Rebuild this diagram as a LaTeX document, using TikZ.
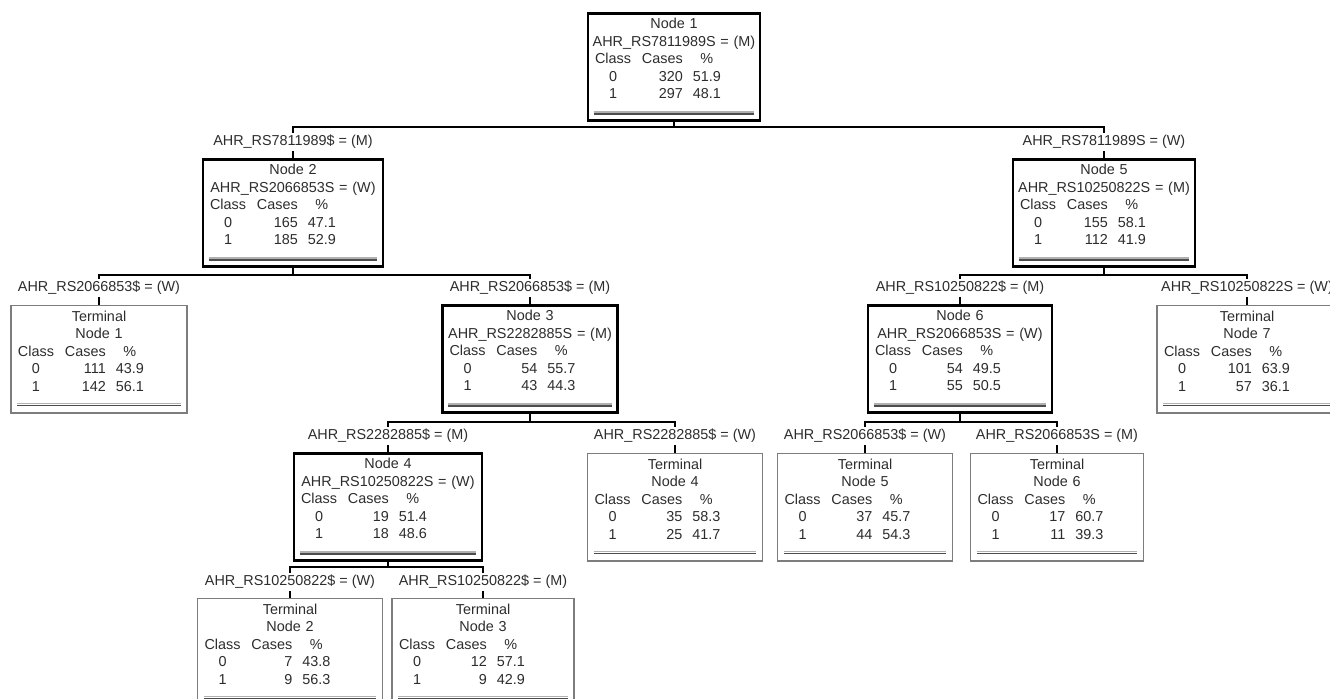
\documentclass[tikz,border=0pt]{standalone}
\usepackage{fontspec}
\setmainfont{Liberation Sans}
\definecolor{leafgray}{RGB}{125,125,125}
\definecolor{textgray}{RGB}{45,45,45}
% class table of a tree node
\newcommand{\cstats}[4]{\hbox to\hsize{\hspace{1.5pt}\begin{tabular}[t]{@{}c@{\hspace{5.5pt}}r@{\hspace{5pt}}c@{}}
  Class&Cases&\%\\0&#1&#2\\1&#3&#4\rule[-8.5pt]{0pt}{1pt}\end{tabular}\hfil}}

\begin{document}
\begin{tikzpicture}[x=0.5pt,y=-0.5pt,
    font=\fontsize{7.2}{8.75}\selectfont, text=textgray,
    cart/.style={anchor=north, align=center, inner xsep=2pt, inner ysep=2.5pt, fill=white},
    splitbox/.style={cart, draw=black, line width=1.3pt},
    leafbox/.style={cart, draw=leafgray, line width=0.6pt},
    boxw/.code={\pgfmathsetmacro\bwd{#1*0.5-4}\tikzset{text width=\bwd pt}},
    lbl/.style={inner sep=1pt},
    bar/.style={line width=1.3pt},
    tick/.style={line width=1pt}]
  \useasboundingbox (0,0) rectangle (1330,698);
  \clip (0,0) rectangle (1330,698);
  \fill[white] (0,0) rectangle (1330,698);
  % Split nodes
  \node[splitbox, boxw=172] (n1) at (674,12) {Node 1\\AHR\_RS7811989S = (M)\\\cstats{320}{51.9}{297}{48.1}};
  \node[splitbox, boxw=180] (n2) at (293,158) {Node 2\\AHR\_RS2066853S = (W)\\\cstats{165}{47.1}{185}{52.9}};
  \node[splitbox, boxw=182] (n5) at (1104,158) {Node 5\\AHR\_RS10250822S = (M)\\\cstats{155}{58.1}{112}{41.9}};
  \node[splitbox, boxw=175] (n3) at (530,304) {Node 3\\AHR\_RS2282885S = (M)\\\cstats{54}{55.7}{43}{44.3}};
  \node[splitbox, boxw=184] (n6) at (960,304) {Node 6\\AHR\_RS2066853S = (W)\\\cstats{54}{49.5}{55}{50.5}};
  \node[splitbox, boxw=188] (n4) at (388,452) {Node 4\\AHR\_RS10250822S = (W)\\\cstats{19}{51.4}{18}{48.6}};
  % Terminal nodes
  \node[leafbox, boxw=176] (t1) at (99,305) {Terminal\\Node 1\\\cstats{111}{43.9}{142}{56.1}};
  \node[leafbox, boxw=180] (t7) at (1247,305) {Terminal\\Node 7\\\cstats{101}{63.9}{57}{36.1}};
  \node[leafbox, boxw=175] (t4) at (675,453) {Terminal\\Node 4\\\cstats{35}{58.3}{25}{41.7}};
  \node[leafbox, boxw=175] (t5) at (865,453) {Terminal\\Node 5\\\cstats{37}{45.7}{44}{54.3}};
  \node[leafbox, boxw=173] (t6) at (1057,453) {Terminal\\Node 6\\\cstats{17}{60.7}{11}{39.3}};
  \node[leafbox, boxw=185] (t2) at (290,598) {Terminal\\Node 2\\\cstats{7}{43.8}{9}{56.3}};
  \node[leafbox, boxw=182] (t3) at (483,598) {Terminal\\Node 3\\\cstats{12}{57.1}{9}{42.9}};
  % double rules under the tables
  \foreach \n in {n1,n2,n3,n4,n5,n6,t1,t2,t3,t4,t5,t6,t7} {
    \draw[leafgray!60, line width=0.6pt] ([xshift=3.5pt,yshift=5pt]\n.south west) -- ([xshift=-3.5pt,yshift=5pt]\n.south east);
    \draw[black!70, line width=0.7pt] ([xshift=3.5pt,yshift=4pt]\n.south west) -- ([xshift=-3.5pt,yshift=4pt]\n.south east);
  }
  % Split labels
  \node[lbl] (l2) at (293,142) {AHR\_RS7811989\$ = (M)};
  \node[lbl] (l5) at (1104,142) {AHR\_RS7811989S = (W)};
  \node[lbl] (lt1) at (99,288) {AHR\_RS2066853\$ = (W)};
  \node[lbl] (l3) at (530,288) {AHR\_RS2066853\$ = (M)};
  \node[lbl] (l6) at (960,288) {AHR\_RS10250822\$ = (M)};
  \node[lbl] (lt7) at (1247,288) {AHR\_RS10250822S = (W)};
  \node[lbl] (l4) at (388,436) {AHR\_RS2282885\$ = (M)};
  \node[lbl] (lt4) at (675,436) {AHR\_RS2282885\$ = (W)};
  \node[lbl] (lt5) at (865,436) {AHR\_RS2066853\$ = (W)};
  \node[lbl] (lt6) at (1057,436) {AHR\_RS2066853S = (M)};
  \node[lbl] (lt2) at (290,582) {AHR\_RS10250822\$ = (W)};
  \node[lbl] (lt3) at (483,582) {AHR\_RS10250822\$ = (M)};
  % Branch bars
  \foreach \p/\x/\y/\a/\b in {n1/674/127/l2/l5, n2/293/275/lt1/l3, n5/1104/275/l6/lt7,
      n3/530/422/l4/lt4, n6/960/422/lt5/lt6, n4/388/567/lt2/lt3} {
    \coordinate (b\p) at (\x,\y);
    \draw[bar] (\p.south) -- (b\p);
    \draw[bar] (\a.north) |- (b\p) -| (\b.north);
  }
  % label to box ticks
  \foreach \l/\c in {l2/n2, l5/n5, lt1/t1, l3/n3, l6/n6, lt7/t7, l4/n4, lt4/t4, lt5/t5, lt6/t6, lt2/t2, lt3/t3}
    \draw[tick] (\l.south) -- (\c.north);
\end{tikzpicture}
\end{document}
